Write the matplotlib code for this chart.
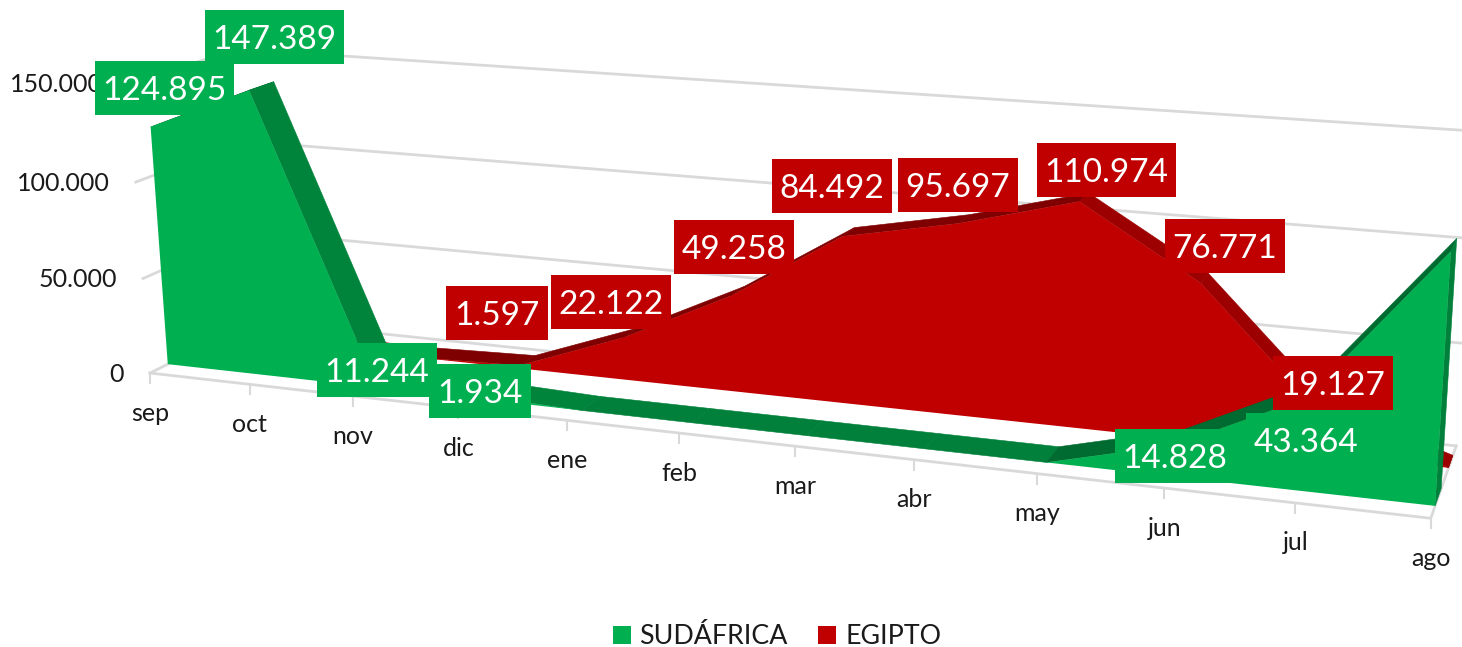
"""Excel style 3D area chart, SUDAFRICA vs EGIPTO, drawn through a small perspective camera."""
import numpy as np
import matplotlib
matplotlib.use("Agg")
import matplotlib.pyplot as plt
from matplotlib.patches import Polygon, Rectangle

plt.rcParams["font.family"] = ["Lato", "DejaVu Sans"]

MONTHS = ["sep", "oct", "nov", "dic", "ene", "feb", "mar", "abr", "may", "jun", "jul", "ago"]
SUDAFRICA = [124895, 147389, 11244, 1934, 0, 0, 0, 0, 0, 14828, 43364, 115000]
EGIPTO = [0, 0, 0, 1597, 22122, 49258, 84492, 95697, 110974, 76771, 19127, 0]
VALUE_TICKS = [0, 50000, 100000, 150000]

# label box centres in pixels, same order as the non empty labels of each series
SUD_LABELED = [0, 1, 2, 3, 9, 10]
SUD_BOXES = [(164, 88), (274, 37), (377, 370), (480, 391), (1175, 456), (1306, 440)]
EGI_LABELED = [3, 4, 5, 6, 7, 8, 9, 10]
EGI_BOXES = [(497, 313), (611, 302), (734, 247), (832, 186), (958, 185), (1106, 170), (1225, 246), (1333, 383)]

GREEN = "#00B050"
RED = "#C00000"
GRID = "#D9D9D9"
TEXT = "#1A1A1A"

# depth slices of the two series on the floor
SUD_DEPTH = (0.16, 0.39)
EGI_DEPTH = (0.68, 0.86)

# camera calibration: (month, value / 50000, depth) -> picture pixel
WORLD = np.array([(0, 0, 0), (0, 1, 0), (0, 2, 0), (4, 0, 0), (8, 0, 0), (11, 0, 0),
                  (0, 0, 1), (0, 3, 1), (11, 0, 1), (11, 1, 1), (11, 3, 1), (11, 2.3, 0.16),
                  (0, 0, 0.16), (0, 2.5, 0.16), (1, 2.95, 0.16), (1, 2.95, 0.39), (11, 0, 0.16),
                  (8, 0, 0.16), (8, 0, 0.39),
                  (3, 0.03, 0.68), (6, 1.69, 0.68), (8, 2.22, 0.68), (9, 1.535, 0.68), (8, 2.22, 0.86)],
                 dtype=float)
PIXEL = np.array([(151, 373), (143, 278), (136, 182), (563, 421), (1033, 475), (1432, 521),
                  (250, 320), (235, 50), (1458, 445), (1462, 343), (1470, 130), (1455, 244),
                  (168, 363), (152, 127), (250, 90), (272, 83), (1435, 508),
                  (1045, 462), (1054, 448),
                  (532, 362), (844, 237), (1081, 202), (1200, 283), (1094, 197)], dtype=float)


def fit_camera(world, pixel):
    rows, rhs = [], []
    for (x, y, z), (px, py) in zip(world, pixel):
        rows.append([x, y, z, 1, 0, 0, 0, 0, -px * x, -px * y, -px * z])
        rows.append([0, 0, 0, 0, x, y, z, 1, -py * x, -py * y, -py * z])
        rhs += [px, py]
    p = np.linalg.lstsq(np.array(rows), np.array(rhs), rcond=None)[0]
    return np.append(p, 1.0).reshape(3, 4)


CAM = fit_camera(WORLD, PIXEL)


def project(month, value, depth):
    h = CAM @ np.array([month, value / 50000, depth, 1.0])
    return h[0] / h[2], h[1] / h[2]


def draw_series(ax, values, depth, face, up, down, flat):
    near, far = depth
    n = len(values)
    for i in range(n - 1):
        quad = [project(i, values[i], near), project(i + 1, values[i + 1], near),
                project(i + 1, values[i + 1], far), project(i, values[i], far)]
        diff = values[i + 1] - values[i]
        col = up if diff > 0 else down if diff < 0 else flat
        ax.add_patch(Polygon(quad, closed=True, fc=col, ec=col, lw=0.4, zorder=3))
    # right end wall
    end = [project(n - 1, 0, near), project(n - 1, values[-1], near),
           project(n - 1, values[-1], far), project(n - 1, 0, far)]
    ax.add_patch(Polygon(end, closed=True, fc=flat, ec=flat, lw=0.4, zorder=3))
    front = [project(i, values[i], near) for i in range(n)]
    front += [project(n - 1, 0, near), project(0, 0, near)]
    ax.add_patch(Polygon(front, closed=True, fc=face, ec="none", zorder=3))


def draw_labels(ax, values, idx, boxes, color):
    for i, (cx, cy) in zip(idx, boxes):
        txt = f"{values[i]:,}".replace(",", ".")
        w = 28 + 18.5 * (len(txt) - 1)
        ax.add_patch(Rectangle((cx - w / 2, cy - 27), w, 54, fc=color, ec="none", zorder=6))
        ax.text(cx, cy, txt, color="white", fontsize=24, ha="center", va="center_baseline", zorder=7)


fig = plt.figure(figsize=(14.62, 6.47), dpi=100)
ax = fig.add_axes([0, 0, 1, 1])
ax.set_xlim(0, 1462)
ax.set_ylim(647, 0)
ax.axis("off")

# back wall gridlines and the left wall stubs
for v in VALUE_TICKS:
    pts = [project(0, v, 0), project(0, v, 1), project(11, v, 1)]
    ax.plot(*zip(*pts), color=GRID, lw=2.0, zorder=1)
# floor outline and month ticks
ax.plot(*zip(project(0, 0, 0), project(11, 0, 0), project(11, 0, 1)), color=GRID, lw=2.0, zorder=1)
for i, m in enumerate(MONTHS):
    x, y = project(i, 0, 0)
    ax.plot([x, x], [y, y + 10], color=GRID, lw=1.5, zorder=1)
    ax.text(x, y + 40, m, color=TEXT, fontsize=18, ha="center", va="center", zorder=2)

for v in VALUE_TICKS:
    x, y = project(0, v, 0)
    ax.text(x - 26, y + 1, f"{v:,}".replace(",", "."), color=TEXT, fontsize=18,
            ha="right", va="center", zorder=2)

draw_series(ax, EGIPTO, EGI_DEPTH, RED, "#7F0000", "#9C0000", "#8B0000")
draw_series(ax, SUDAFRICA, SUD_DEPTH, GREEN, "#006B30", "#00843C", "#00803A")

draw_labels(ax, EGIPTO, EGI_LABELED, EGI_BOXES, RED)
draw_labels(ax, SUDAFRICA, SUD_LABELED, SUD_BOXES, GREEN)

# legend
ax.add_patch(Rectangle((613, 626), 18, 18, fc=GREEN, ec="none"))
ax.text(639, 636, "SUDÁFRICA", color=TEXT, fontsize=19.3, ha="left", va="center")
ax.add_patch(Rectangle((818, 626), 18, 18, fc=RED, ec="none"))
ax.text(845, 636, "EGIPTO", color=TEXT, fontsize=19.3, ha="left", va="center")

fig.savefig("out.png", dpi=100)
